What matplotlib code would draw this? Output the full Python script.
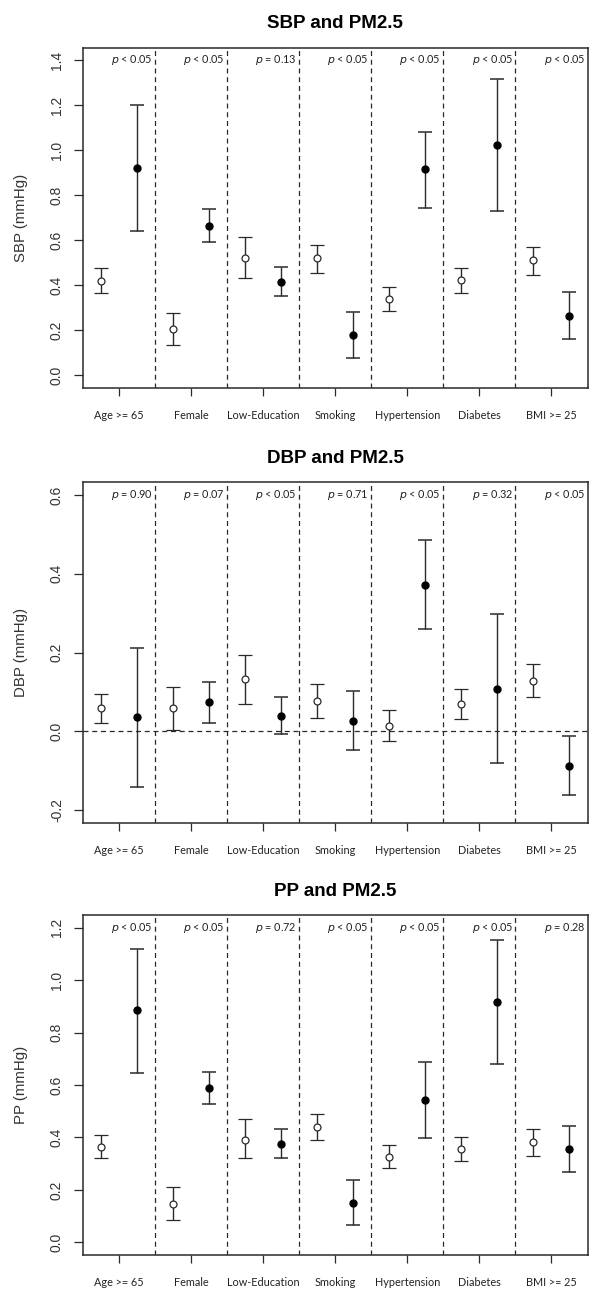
import matplotlib
matplotlib.use("Agg")
import matplotlib.pyplot as plt
import numpy as np

# groups and p-value labels
groups = ["Age >= 65", "Female", "Low-Education", "Smoking", "Hypertension", "Diabetes", "BMI >= 25"]

# SBP: open = reference group, filled = subgroup
sbp_open = [0.419, 0.205, 0.522, 0.519, 0.337, 0.423, 0.510]
sbp_open_lo = [0.367, 0.132, 0.432, 0.453, 0.287, 0.367, 0.446]
sbp_open_hi = [0.475, 0.278, 0.612, 0.578, 0.394, 0.475, 0.568]
sbp_fill = [0.921, 0.663, 0.415, 0.180, 0.915, 1.022, 0.264]
sbp_fill_lo = [0.639, 0.590, 0.351, 0.077, 0.744, 0.728, 0.162]
sbp_fill_hi = [1.199, 0.737, 0.480, 0.282, 1.083, 1.318, 0.371]
sbp_p = ["< 0.05", "< 0.05", "= 0.13", "< 0.05", "< 0.05", "< 0.05", "< 0.05"]

# DBP
dbp_open = [0.059, 0.059, 0.132, 0.078, 0.014, 0.068, 0.127]
dbp_open_lo = [0.020, 0.004, 0.070, 0.034, -0.025, 0.032, 0.086]
dbp_open_hi = [0.095, 0.112, 0.193, 0.120, 0.054, 0.108, 0.171]
dbp_fill = [0.037, 0.073, 0.039, 0.026, 0.372, 0.107, -0.088]
dbp_fill_lo = [-0.142, 0.021, -0.008, -0.047, 0.259, -0.081, -0.162]
dbp_fill_hi = [0.212, 0.125, 0.086, 0.103, 0.485, 0.299, -0.013]
dbp_p = ["= 0.90", "= 0.07", "< 0.05", "= 0.71", "< 0.05", "= 0.32", "< 0.05"]

# PP
pp_open = [0.363, 0.146, 0.392, 0.439, 0.326, 0.355, 0.381]
pp_open_lo = [0.320, 0.084, 0.320, 0.389, 0.283, 0.311, 0.330]
pp_open_hi = [0.408, 0.213, 0.470, 0.490, 0.371, 0.400, 0.433]
pp_fill = [0.884, 0.590, 0.377, 0.149, 0.543, 0.916, 0.355]
pp_fill_lo = [0.646, 0.529, 0.322, 0.065, 0.399, 0.679, 0.268]
pp_fill_hi = [1.120, 0.650, 0.433, 0.238, 0.687, 1.153, 0.443]
pp_p = ["< 0.05", "< 0.05", "= 0.72", "< 0.05", "< 0.05", "< 0.05", "= 0.28"]

ink = "#2a2a2a"
W, H = 589, 1290


def draw_panel(ax, title, ylabel, yticks, o, olo, ohi, f, flo, fhi, pvals, zero_line=False):
    x = np.arange(1, len(groups) + 1)
    o, olo, ohi = np.array(o), np.array(olo), np.array(ohi)
    f, flo, fhi = np.array(f), np.array(flo), np.array(fhi)
    ax.errorbar(x - 0.25, o, yerr=[o - olo, ohi - o], fmt="o", mfc="white", mec=ink,
                ms=5.0, mew=0.9, ecolor=ink, elinewidth=1.0, capsize=5.0, capthick=1.1, zorder=3)
    ax.errorbar(x + 0.25, f, yerr=[f - flo, fhi - f], fmt="o", mfc="black", mec="black",
                ms=5.0, ecolor=ink, elinewidth=1.0, capsize=5.0, capthick=1.1, zorder=3)
    for b in x[:-1] + 0.5:
        ax.axvline(b, color=ink, lw=0.9, ls=(0, (4, 3)), zorder=1)
    if zero_line:
        ax.axhline(0, color=ink, lw=0.9, ls=(0, (4, 3)), zorder=1)
    rng = yticks[-1] - yticks[0]
    ax.set_ylim(yticks[0] - 0.04 * rng, yticks[-1] + 0.04 * rng)
    ax.set_xlim(0.5, len(groups) + 0.5)
    ax.set_yticks(yticks)
    ax.set_yticklabels(["%.1f" % v for v in yticks], rotation=90, va="center",
                       fontsize=10, color="#333333", family="Liberation Sans")
    ax.set_xticks(x)
    ax.set_xticklabels(groups, fontsize=7.8, color="#222222", family="Lato")
    ax.tick_params(axis="y", length=6.5, width=0.9, color=ink, pad=7)
    ax.tick_params(axis="x", length=6, width=0.9, color=ink, pad=10)
    for s in ax.spines.values():
        s.set_color(ink)
        s.set_linewidth(1.1)
    ax.set_ylabel(ylabel, fontsize=10.8, color="#333333", family="Liberation Sans", labelpad=16)
    ax.set_title(title, fontsize=13.5, fontweight="bold", family="Liberation Sans", pad=14)
    for i, p in enumerate(pvals):
        ax.text(x[i] + 0.47, 0.963, r"$\it{p}$ " + p, transform=ax.get_xaxis_transform(),
                ha="right", va="center", fontsize=7.8, color="#222222", family="Lato")


fig = plt.figure(figsize=(W / 100, H / 100), dpi=100)
left, width, height = 82.7 / W, 504.8 / W, 340 / H
tops = [47.7, 482.5, 915.0]
axes = [fig.add_axes([left, 1 - (t + 340) / H, width, height]) for t in tops]

draw_panel(axes[0], "SBP and PM2.5", "SBP (mmHg)", [0.0, 0.2, 0.4, 0.6, 0.8, 1.0, 1.2, 1.4],
           sbp_open, sbp_open_lo, sbp_open_hi, sbp_fill, sbp_fill_lo, sbp_fill_hi, sbp_p)
draw_panel(axes[1], "DBP and PM2.5", "DBP (mmHg)", [-0.2, 0.0, 0.2, 0.4, 0.6],
           dbp_open, dbp_open_lo, dbp_open_hi, dbp_fill, dbp_fill_lo, dbp_fill_hi, dbp_p, zero_line=True)
draw_panel(axes[2], "PP and PM2.5", "PP (mmHg)", [0.0, 0.2, 0.4, 0.6, 0.8, 1.0, 1.2],
           pp_open, pp_open_lo, pp_open_hi, pp_fill, pp_fill_lo, pp_fill_hi, pp_p)

fig.savefig("out.png", dpi=100)
